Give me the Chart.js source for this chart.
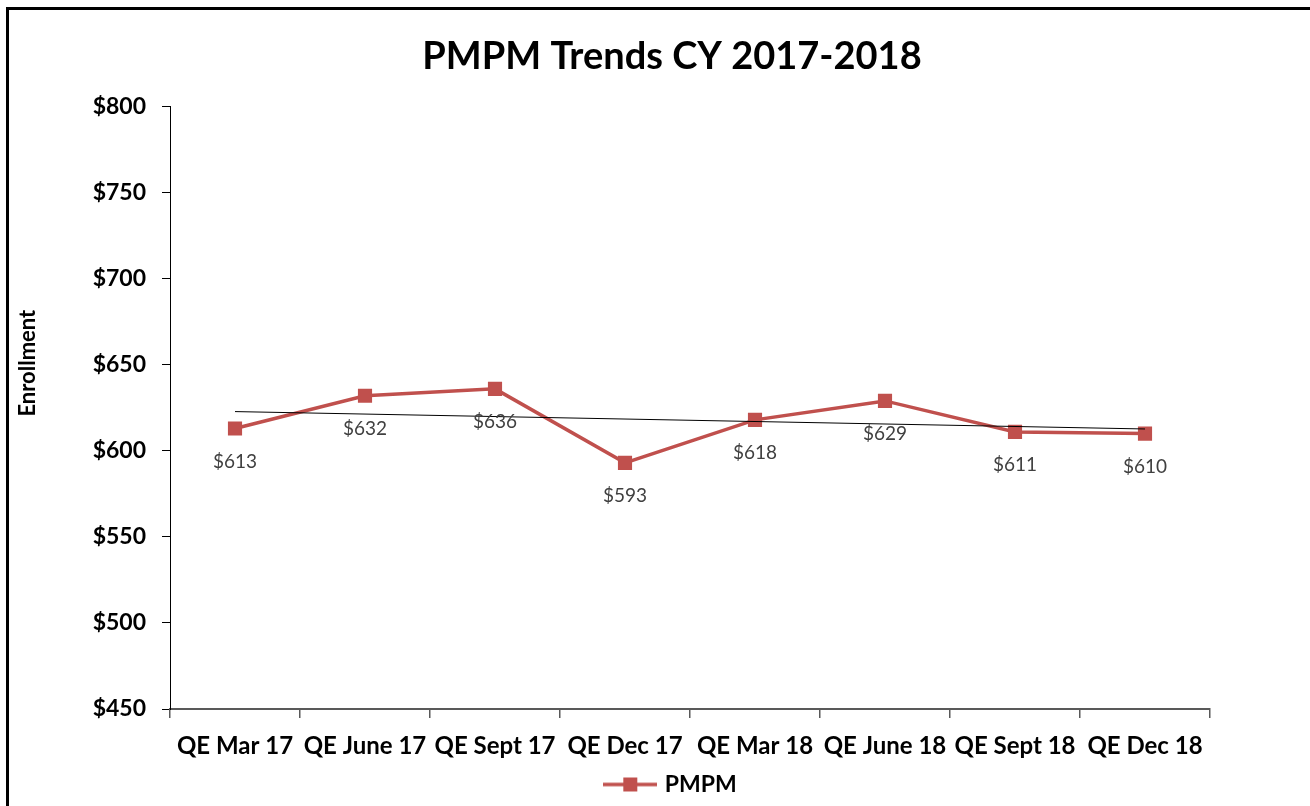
<!DOCTYPE html>
<html><head><meta charset="utf-8">
<script src="https://cdn.jsdelivr.net/npm/chart.js@4.4.0/dist/chart.umd.min.js"></script>
<style>
html,body{margin:0;padding:0;background:#fff;overflow:hidden;}
#wrap{position:relative;width:1310px;height:806px;}
#frame{position:absolute;left:6px;top:7px;width:1400px;height:900px;border:3px solid #000;box-sizing:border-box;pointer-events:none;}
canvas{position:absolute;left:0;top:0;}
</style></head><body>
<div id="wrap"><canvas id="c" width="1310" height="806"></canvas><div id="frame"></div></div>
<script>
// ---- data ----
const categories = ['QE Mar 17','QE June 17','QE Sept 17','QE Dec 17','QE Mar 18','QE June 18','QE Sept 18','QE Dec 18'];
const pmpmValues = [613, 632, 636, 593, 618, 629, 611, 610];
// trendline end points (first and last category)
const trendValues = [622.8, null, null, null, null, null, null, 612.7];
const yMin = 450, yMax = 800, yStep = 50;
const seriesName = 'PMPM';
const chartTitle = 'PMPM Trends CY 2017-2018';
const yAxisTitle = 'Enrollment';

const RED = '#C0504D';
const FONT = 'Lato';

// legend icon: line with square marker
const icon = document.createElement('canvas');
icon.width = 54; icon.height = 16;
(function(){
  const g = icon.getContext('2d');
  g.strokeStyle = RED; g.lineWidth = 3.5;
  g.beginPath(); g.moveTo(0, 8); g.lineTo(54, 8); g.stroke();
  g.fillStyle = RED; g.fillRect(20, 1, 14, 14);
})();

const valueLabels = {
  id: 'valueLabels',
  afterDatasetsDraw(chart) {
    const meta = chart.getDatasetMeta(1);
    const data = chart.data.datasets[1].data;
    const ctx = chart.ctx;
    ctx.save();
    ctx.font = '19px ' + FONT;
    ctx.fillStyle = '#404040';
    ctx.textAlign = 'center';
    ctx.textBaseline = 'middle';
    meta.data.forEach((pt, i) => {
      ctx.fillText('$' + data[i], pt.x, pt.y + 33);
    });
    ctx.restore();
  }
};

// leading figure spaces lift the rotated title above the axis centre, as in the reference
const titlePad = '\u2007\u2007\u2007\u2007\u2007\u2007\u2007';

new Chart(document.getElementById('c'), {
  type: 'line',
  data: {
    labels: categories,
    datasets: [
      { label: 'Trend', data: trendValues, borderColor: '#000', borderWidth: 1,
        pointRadius: 0, spanGaps: true, fill: false, tension: 0 },
      { label: seriesName, data: pmpmValues, borderColor: RED, backgroundColor: RED,
        borderWidth: 3.5, pointStyle: 'rect', pointRadius: 10, pointBackgroundColor: RED,
        pointBorderColor: RED, pointBorderWidth: 0, fill: false, tension: 0 }
    ]
  },
  options: {
    responsive: false, animation: false, devicePixelRatio: 1,
    layout: { padding: { left: 34, right: 0, top: 0, bottom: 0 } },
    plugins: {
      title: { display: true, text: chartTitle, color: '#000',
        font: { family: FONT, size: 38, weight: 'bold' }, padding: { top: 34, bottom: 27 } },
      legend: { position: 'bottom',
        labels: {
          usePointStyle: true, pointStyleWidth: 46, color: '#000',
          font: { family: FONT, size: 23, weight: 'bold' },
          generateLabels(chart) {
            const items = Chart.defaults.plugins.legend.labels.generateLabels(chart);
            return items.filter(it => it.datasetIndex === 1).map(it => Object.assign(it, { pointStyle: icon }));
          }
        } },
      tooltip: { enabled: false }
    },
    scales: {
      x: {
        offset: true,
        grid: { offset: true, drawOnChartArea: false, drawTicks: true, tickLength: 9, color: '#595959', lineWidth: 1.5 },
        border: { color: '#595959', width: 2 },
        ticks: { color: '#000', font: { family: FONT, size: 24, weight: 'bold' }, padding: 14, maxRotation: 0, autoSkip: false },
        afterFit(s) { s.height = 54; }
      },
      y: {
        min: yMin, max: yMax,
        ticks: { stepSize: yStep, callback: v => '$' + v, color: '#000',
          font: { family: FONT, size: 23, weight: 'bold' }, padding: 16 },
        grid: { drawOnChartArea: false, drawTicks: true, tickLength: 8, color: '#000' },
        border: { color: '#000', width: 1 },
        title: { display: true, text: titlePad + yAxisTitle, color: '#000',
          font: { family: FONT, size: 22, weight: 'bold' }, padding: { top: -19, bottom: 0 } },
        afterFit(s) { s.width = 136; }
      },
      yRight: {
        position: 'right', display: true,
        grid: { display: false }, border: { display: false }, ticks: { display: false },
        afterFit(s) { s.width = 100; }
      }
    }
  },
  plugins: [valueLabels]
});
</script>
</body></html>
